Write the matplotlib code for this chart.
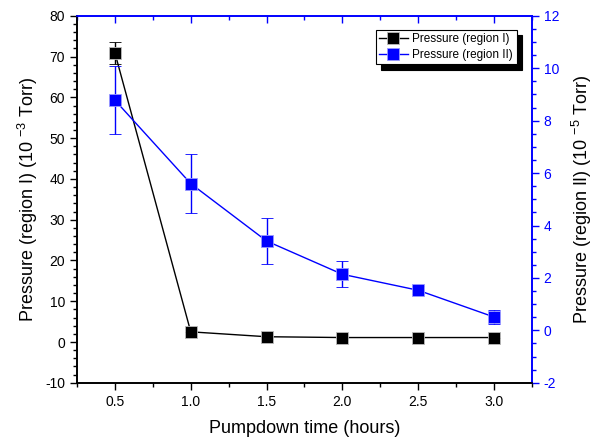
import matplotlib
matplotlib.use("Agg")
import matplotlib.pyplot as plt
from matplotlib.ticker import MultipleLocator

plt.rcParams['font.family'] = ['Liberation Sans', 'DejaVu Sans']
plt.rcParams['mathtext.fontset'] = 'custom'
plt.rcParams['mathtext.rm'] = 'Liberation Sans'
plt.rcParams['axes.unicode_minus'] = False

# pumpdown time (hours)
hours = [0.5, 1.0, 1.5, 2.0, 2.5, 3.0]
# region I pressure, 1e-3 Torr
p1 = [70.9, 2.5, 1.3, 1.1, 1.1, 1.1]
p1_err = [2.6, 0.0, 0.0, 0.0, 0.0, 0.0]
# region II pressure, 1e-5 Torr
p2 = [8.78, 5.60, 3.41, 2.14, 1.53, 0.51]
p2_err = [1.30, 1.13, 0.88, 0.49, 0.15, 0.27]

fig = plt.figure(figsize=(5.99, 4.40), dpi=100)
ax = fig.add_axes([0.1286, 0.130, 0.7594, 0.834])
ax2 = ax.twinx()

l1 = ax.errorbar(hours, p1, yerr=p1_err, color='black', lw=1.0,
                 marker='s', ms=8, mfc='black', mec='#bbbbbb', mew=0.6,
                 ecolor='black', elinewidth=1.0, capsize=4, capthick=1.0,
                 label='Pressure (region I)', zorder=3)
l2 = ax2.errorbar(hours, p2, yerr=p2_err, color='blue', lw=1.0,
                  marker='s', ms=8, mfc='blue', mec='#9999ff', mew=0.6,
                  ecolor='blue', elinewidth=1.0, capsize=4, capthick=1.0,
                  label='Pressure (region II)', zorder=3)

ax.set_xlim(0.25, 3.25)
ax.set_ylim(-10, 80)
ax2.set_ylim(-2, 12)

ax.xaxis.set_major_locator(MultipleLocator(0.5))
ax.xaxis.set_minor_locator(MultipleLocator(0.25))
ax.yaxis.set_major_locator(MultipleLocator(10))
ax.yaxis.set_minor_locator(MultipleLocator(2))
ax2.yaxis.set_major_locator(MultipleLocator(2))
ax2.yaxis.set_minor_locator(MultipleLocator(0.5))

ax.tick_params(axis='both', which='major', direction='out', length=5,
               width=1, labelsize=10)
ax.tick_params(axis='both', which='minor', direction='out', length=3, width=1)
ax.tick_params(axis='x', top=False)
ax2.tick_params(axis='y', which='major', direction='out', length=5, width=1,
                colors='blue', labelsize=10)
ax2.tick_params(axis='y', which='minor', direction='out', length=3, width=1,
                colors='blue')
ax2.tick_params(axis='x', which='both', top=True, bottom=False,
                labeltop=False, labelbottom=False, direction='in',
                color='blue', width=1)
ax2.tick_params(axis='x', which='major', length=5)
ax2.tick_params(axis='x', which='minor', length=3)
ax2.xaxis.set_visible(True)

for a in (ax, ax2):
    a.spines['top'].set_color('blue')
    a.spines['right'].set_color('blue')
    a.spines['left'].set_color('black')
    a.spines['bottom'].set_color('black')
    for s in a.spines.values():
        s.set_linewidth(1.2)

ax.set_xlabel('Pumpdown time (hours)', fontsize=13, labelpad=8)
ax.set_ylabel('Pressure (region I) (10 $^{-3}$ Torr)', fontsize=13, labelpad=4)
ax2.set_ylabel('Pressure (region II) (10 $^{-5}$ Torr)', fontsize=13,
               labelpad=8)

leg = ax2.legend([l1[0], l2[0]], ['Pressure (region I)', 'Pressure (region II)'],
                 loc='upper right', bbox_to_anchor=(0.9665, 0.962),
                 fontsize=8.5, frameon=True, fancybox=False,
                 shadow={'color': 'black', 'alpha': 1.0, 'ox': 4, 'oy': -4},
                 borderpad=0.3, handlelength=2.4, handletextpad=0.4,
                 labelspacing=0.3, borderaxespad=0.0, markerscale=1.0)
leg.get_frame().set_edgecolor('black')
leg.get_frame().set_linewidth(0.8)

fig.savefig('out.png', dpi=100)
